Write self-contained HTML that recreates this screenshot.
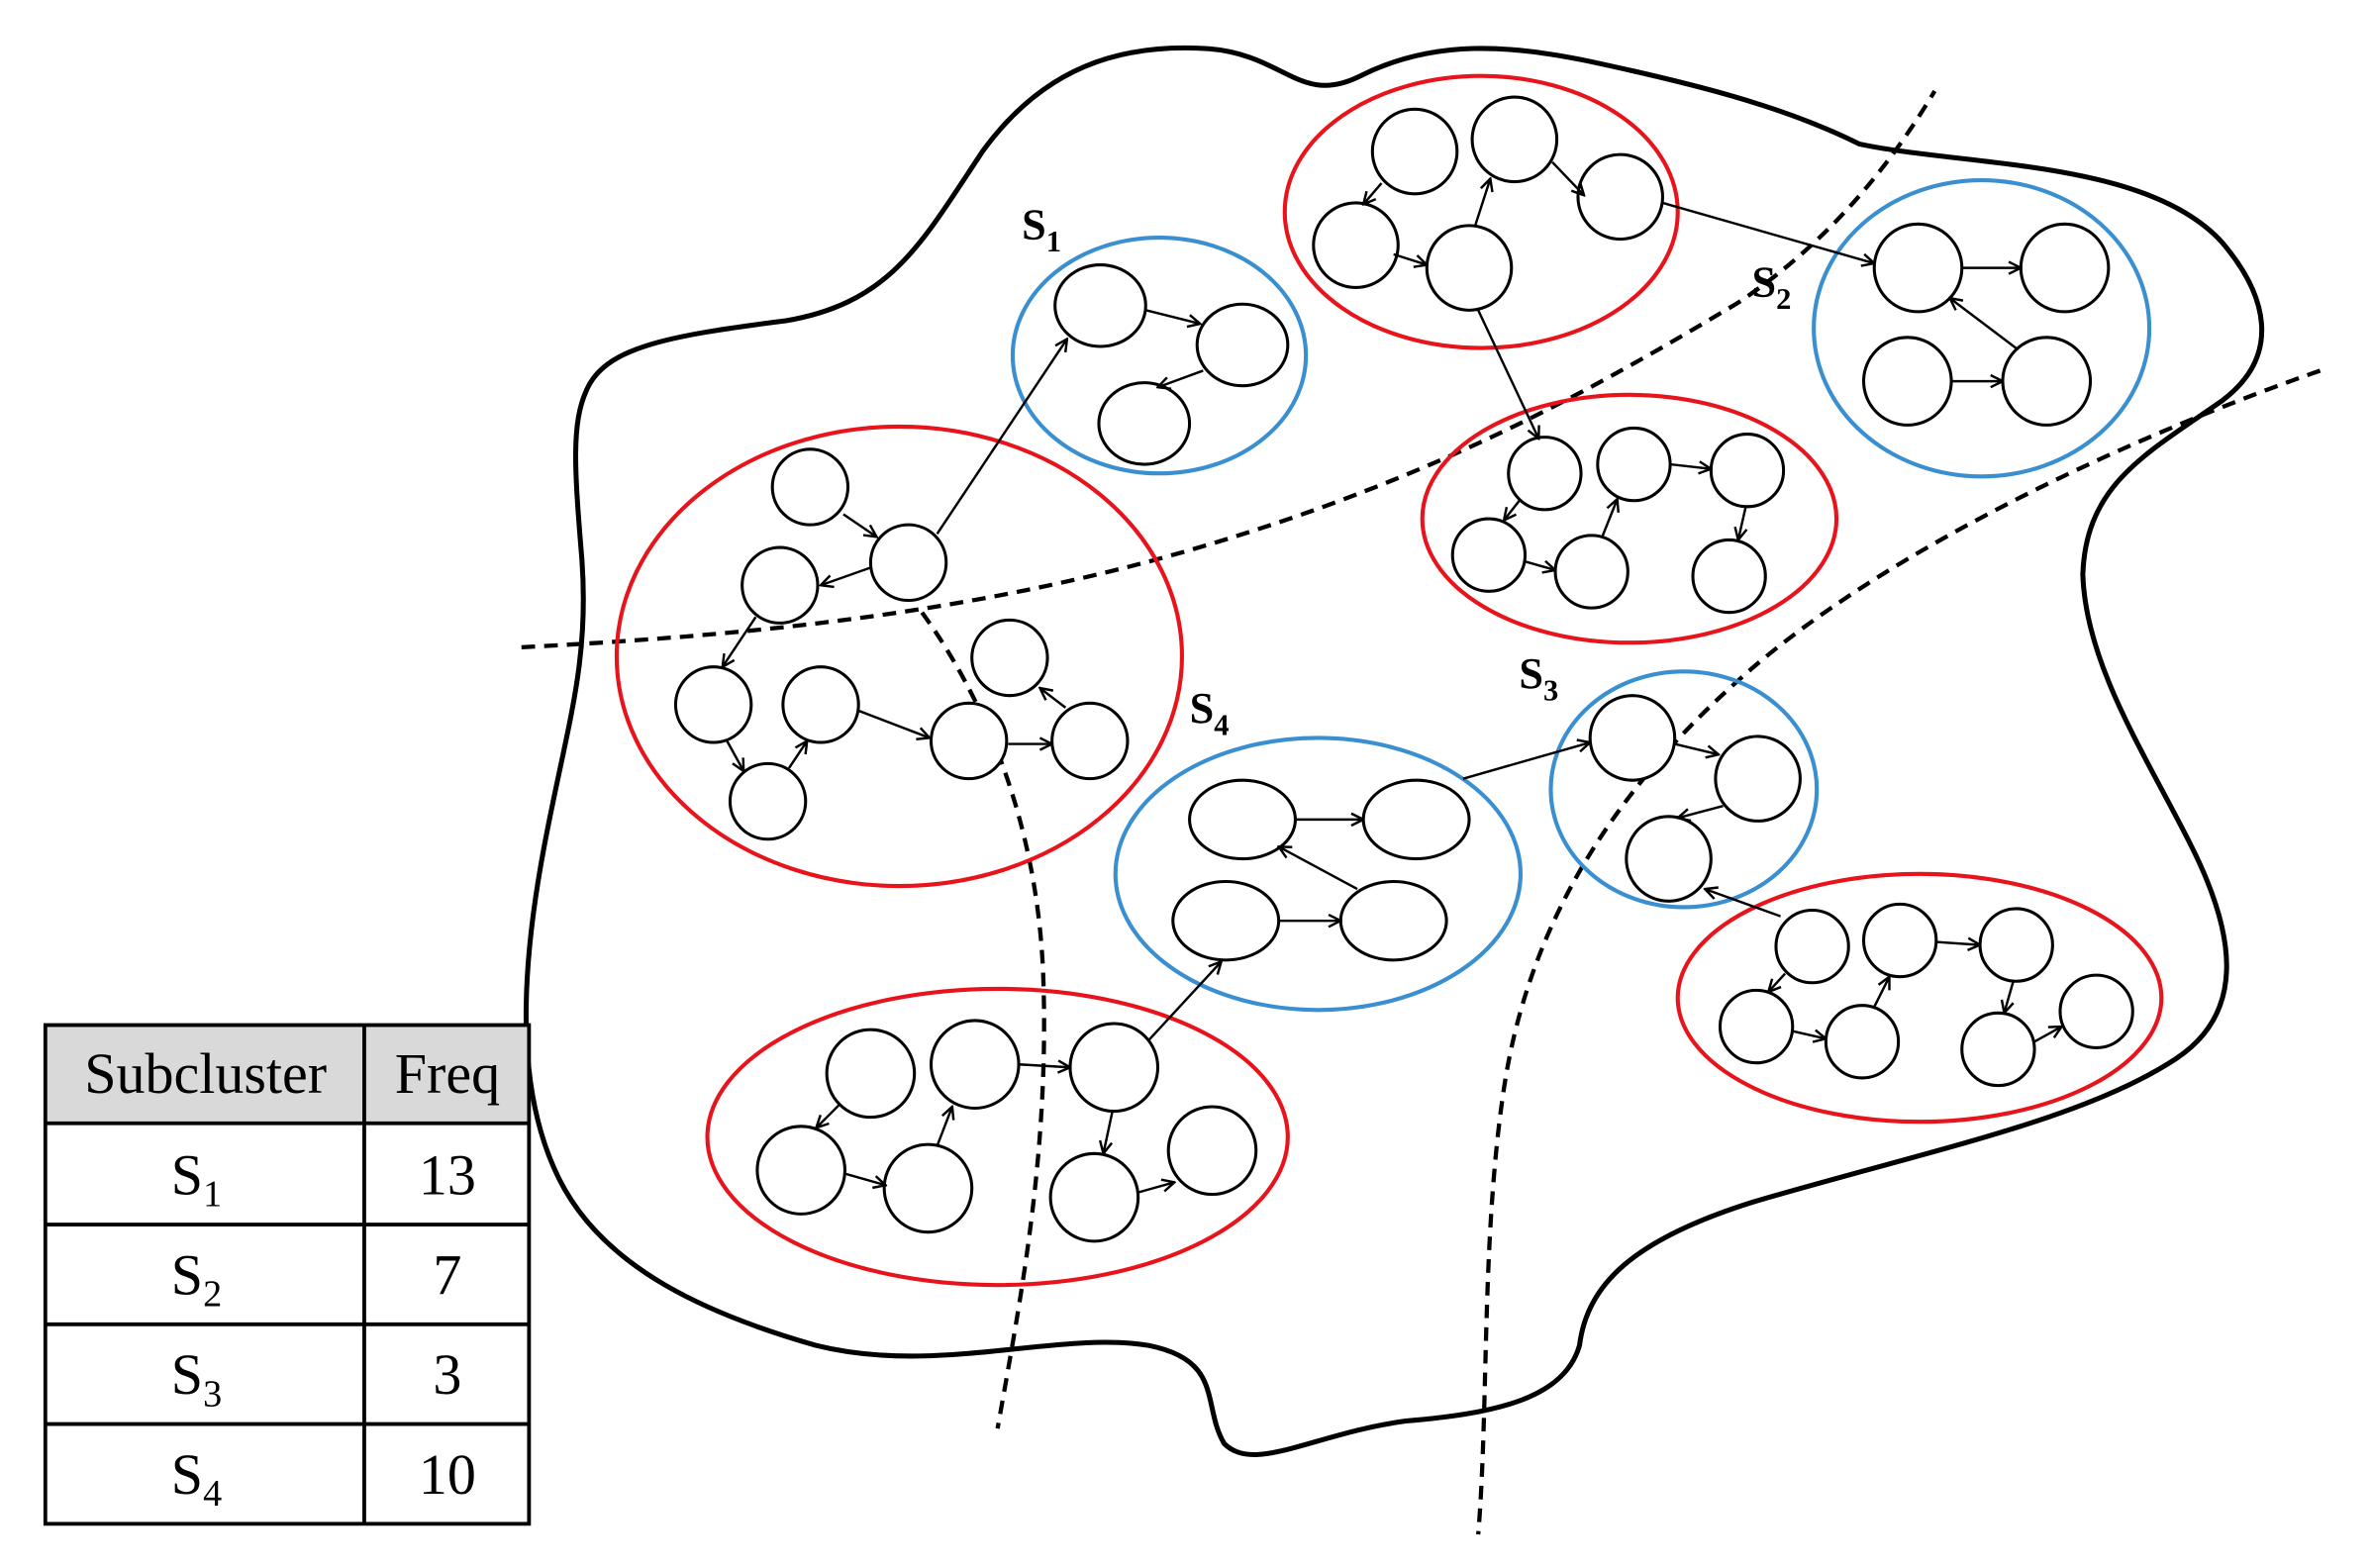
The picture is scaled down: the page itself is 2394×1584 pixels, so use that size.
<!DOCTYPE html>
<html><head><meta charset="utf-8"><style>
html,body{margin:0;padding:0;background:#fff;}
svg{display:block;}
</style></head><body>
<svg width="2394" height="1584" viewBox="0 0 1568 1037" xmlns="http://www.w3.org/2000/svg" font-family="Liberation Serif, serif">
<defs>
<marker id="a" markerWidth="10" markerHeight="10" refX="9" refY="5" orient="auto" markerUnits="userSpaceOnUse">
<path d="M1,1 L9,5 L1,9" fill="none" stroke="#000" stroke-width="1.6"/>
</marker>
</defs>
<rect width="1568" height="1037" fill="#fff"/>
<path d="M388,258 C400,230 440,222 520,212 C590,200 610,160 650,100 C690,45 740,28 800,32 C850,36 860,70 900,50 C950,25 1000,30 1050,40 C1120,55 1180,70 1230,95 C1300,110 1420,105 1470,160 C1500,195 1510,235 1470,265 C1420,300 1380,320 1378,380 C1380,440 1420,500 1450,560 C1480,620 1485,670 1440,700 C1380,740 1280,760 1160,795 C1080,820 1050,850 1045,890 C1035,925 990,935 930,940 C870,948 830,975 810,955 C795,930 810,900 760,890 C700,880 620,910 540,890 C470,870 400,840 370,780 C340,720 345,640 360,560 C375,480 390,440 385,370 C380,310 378,280 388,258 Z" fill="none" stroke="#000" stroke-width="3.3"/>
<g fill="none" stroke="#000" stroke-width="2.8" stroke-dasharray="9,6">
<path d="M345,428 C500,420 650,405 800,360 C950,315 1050,260 1150,200 C1210,160 1250,110 1280,60"/>
<path d="M610,405 C650,460 685,540 690,640 C695,760 675,860 660,945"/>
<path d="M1535,245 C1420,285 1250,360 1150,450 C1060,530 1010,620 995,720 C980,820 985,930 978,1015"/>
</g>
<g fill="none" stroke-width="2.7">
<ellipse cx="595" cy="434" rx="187" ry="152" stroke="#e8141c"/>
<ellipse cx="980" cy="140" rx="130" ry="90" stroke="#e8141c"/>
<ellipse cx="1078" cy="343" rx="137" ry="82" stroke="#e8141c"/>
<ellipse cx="1270" cy="660" rx="160" ry="82" stroke="#e8141c"/>
<ellipse cx="660" cy="752" rx="192" ry="98" stroke="#e8141c"/>
<ellipse cx="767" cy="235" rx="97" ry="78" stroke="#3a8fd0"/>
<ellipse cx="1311" cy="217" rx="111" ry="98" stroke="#3a8fd0"/>
<ellipse cx="1114" cy="522" rx="88" ry="78" stroke="#3a8fd0"/>
<ellipse cx="872" cy="578" rx="134" ry="90" stroke="#3a8fd0"/>
</g>
<g fill="#fff" stroke="#000" stroke-width="2">
<ellipse cx="728" cy="202" rx="30" ry="27"/><ellipse cx="822" cy="228" rx="30" ry="27"/><ellipse cx="757" cy="280" rx="30" ry="27"/>
<circle cx="536" cy="322" r="25"/><circle cx="601" cy="372" r="25"/><circle cx="516" cy="387" r="25"/><circle cx="472" cy="466" r="25"/><circle cx="543" cy="466" r="25"/><circle cx="508" cy="530" r="25"/><circle cx="668" cy="435" r="25"/><circle cx="641" cy="490" r="25"/><circle cx="721" cy="490" r="25"/>
<circle cx="936" cy="100" r="28"/><circle cx="1002" cy="92" r="28"/><circle cx="1072" cy="130" r="28"/><circle cx="897" cy="162" r="28"/><circle cx="972" cy="177" r="28"/>
<circle cx="1269" cy="177" r="29"/><circle cx="1366" cy="177" r="29"/><circle cx="1262" cy="252" r="29"/><circle cx="1354" cy="252" r="29"/>
<circle cx="1022" cy="313" r="24"/><circle cx="1081" cy="307" r="24"/><circle cx="1156" cy="311" r="24"/><circle cx="985" cy="367" r="24"/><circle cx="1053" cy="378" r="24"/><circle cx="1144" cy="381" r="24"/>
<circle cx="1080" cy="488" r="28"/><circle cx="1163" cy="515" r="28"/><circle cx="1104" cy="568" r="28"/>
<ellipse cx="822" cy="542" rx="35" ry="26"/><ellipse cx="937" cy="542" rx="35" ry="26"/><ellipse cx="811" cy="609" rx="35" ry="26"/><ellipse cx="922" cy="609" rx="35" ry="26"/>
<circle cx="1199" cy="626" r="24"/><circle cx="1257" cy="622" r="24"/><circle cx="1334" cy="625" r="24"/><circle cx="1162" cy="679" r="24"/><circle cx="1232" cy="689" r="24"/><circle cx="1322" cy="694" r="24"/><circle cx="1387" cy="669" r="24"/>
<circle cx="576" cy="710" r="29"/><circle cx="645" cy="704" r="29"/><circle cx="737" cy="706" r="29"/><circle cx="530" cy="774" r="29"/><circle cx="614" cy="786" r="29"/><circle cx="724" cy="792" r="29"/><circle cx="802" cy="761" r="29"/>
</g>
<g stroke="#000" stroke-width="1.6" marker-end="url(#a)">
<line x1="558" y1="340" x2="580" y2="355"/><line x1="577" y1="375" x2="543" y2="387"/><line x1="500" y1="408" x2="478" y2="441"/><line x1="481" y1="490" x2="492" y2="510"/><line x1="522" y1="508" x2="534" y2="490"/><line x1="568" y1="470" x2="615" y2="488"/><line x1="667" y1="492" x2="696" y2="492"/><line x1="705" y1="468" x2="688" y2="455"/><line x1="620" y1="353" x2="706" y2="224"/>
<line x1="758" y1="205" x2="794" y2="214"/><line x1="796" y1="245" x2="766" y2="256"/>
<line x1="914" y1="121" x2="902" y2="135"/><line x1="922" y1="168" x2="944" y2="175"/><line x1="976" y1="149" x2="986" y2="118"/><line x1="1027" y1="107" x2="1048" y2="129"/><line x1="1100" y1="134" x2="1240" y2="174"/><line x1="978" y1="205" x2="1018" y2="290"/>
<line x1="1298" y1="177" x2="1337" y2="177"/><line x1="1335" y1="231" x2="1290" y2="197"/><line x1="1291" y1="252" x2="1325" y2="252"/>
<line x1="1006" y1="330" x2="995" y2="344"/><line x1="1008" y1="371" x2="1029" y2="377"/><line x1="1060" y1="355" x2="1070" y2="330"/><line x1="1105" y1="307" x2="1132" y2="310"/><line x1="1155" y1="335" x2="1150" y2="357"/>
<line x1="968" y1="515" x2="1052" y2="491"/><line x1="1108" y1="492" x2="1137" y2="499"/><line x1="1140" y1="533" x2="1110" y2="541"/><line x1="1178" y1="606" x2="1128" y2="588"/>
<line x1="857" y1="542" x2="902" y2="542"/><line x1="898" y1="588" x2="846" y2="560"/><line x1="846" y1="609" x2="887" y2="609"/>
<line x1="1181" y1="644" x2="1170" y2="656"/><line x1="1186" y1="682" x2="1208" y2="687"/><line x1="1240" y1="666" x2="1250" y2="646"/><line x1="1281" y1="623" x2="1310" y2="625"/><line x1="1332" y1="649" x2="1326" y2="670"/><line x1="1346" y1="689" x2="1364" y2="679"/>
<line x1="555" y1="731" x2="540" y2="746"/><line x1="558" y1="776" x2="586" y2="784"/><line x1="620" y1="758" x2="630" y2="732"/><line x1="674" y1="704" x2="708" y2="706"/><line x1="736" y1="735" x2="730" y2="763"/><line x1="752" y1="789" x2="777" y2="782"/><line x1="760" y1="688" x2="808" y2="636"/>
</g>
<g font-weight="bold" font-size="29" fill="#000">
<text x="676" y="158">S<tspan font-size="20" dy="8">1</tspan></text>
<text x="1159" y="196">S<tspan font-size="20" dy="8">2</tspan></text>
<text x="1005" y="455">S<tspan font-size="20" dy="8">3</tspan></text>
<text x="787" y="478">S<tspan font-size="20" dy="8">4</tspan></text>
</g>
<rect x="30" y="678" width="320" height="65" fill="#d9d9d9"/>
<g stroke="#000" stroke-width="2.5" fill="none">
<rect x="30" y="678" width="320" height="330"/>
<line x1="30" y1="743" x2="350" y2="743"/><line x1="30" y1="810" x2="350" y2="810"/><line x1="30" y1="876" x2="350" y2="876"/><line x1="30" y1="942" x2="350" y2="942"/>
<line x1="241" y1="678" x2="241" y2="1008"/>
</g>
<g font-size="38" fill="#000" text-anchor="middle">
<text x="136" y="723">Subcluster</text><text x="296" y="723">Freq</text>
<text x="130" y="790">S<tspan font-size="25" dy="8">1</tspan></text><text x="296" y="790">13</text>
<text x="130" y="856">S<tspan font-size="25" dy="8">2</tspan></text><text x="296" y="856">7</text>
<text x="130" y="922">S<tspan font-size="25" dy="8">3</tspan></text><text x="296" y="922">3</text>
<text x="130" y="988">S<tspan font-size="25" dy="8">4</tspan></text><text x="296" y="988">10</text>
</g>
</svg>
</body></html>
